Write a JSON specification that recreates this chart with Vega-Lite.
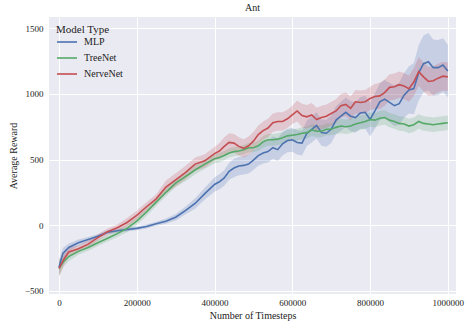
{
  "$schema": "https://vega.github.io/schema/vega-lite/v6.json",
  "width": 407,
  "height": 277,
  "autosize": {"type": "none"},
  "padding": {"left": 49, "top": 17, "right": 10, "bottom": 30},
  "background": "white",
  "title": {"text": "Ant", "font": "Liberation Serif", "fontSize": 10, "fontWeight": "normal", "color": "#222", "offset": 4},
  "config": {
    "view": {"fill": "#EAEAF2", "stroke": null},
    "axis": {
      "domain": false, "ticks": false, "gridColor": "white", "gridWidth": 1, "gridOpacity": 1,
      "labelFont": "Liberation Serif", "labelFontSize": 9, "labelColor": "#222",
      "titleFont": "Liberation Serif", "titleFontSize": 10, "titleFontWeight": "normal", "titleColor": "#222"
    },
    "legend": {
      "labelFont": "Liberation Serif", "labelFontSize": 10, "labelColor": "#222",
      "titleFont": "Liberation Serif", "titleFontSize": 11, "titleFontWeight": "normal", "titleColor": "#222"
    }
  },
  "data": {"values": [
    {"model":"MLP","t":0,"mean":-320,"lo":-380,"hi":-260},
    {"model":"MLP","t":10000,"mean":-215,"lo":-255,"hi":-175},
    {"model":"MLP","t":25000,"mean":-170,"lo":-200,"hi":-140},
    {"model":"MLP","t":50000,"mean":-135,"lo":-160,"hi":-110},
    {"model":"MLP","t":75000,"mean":-110,"lo":-130,"hi":-90},
    {"model":"MLP","t":100000,"mean":-85,"lo":-100,"hi":-70},
    {"model":"MLP","t":125000,"mean":-55,"lo":-70,"hi":-40},
    {"model":"MLP","t":150000,"mean":-43,"lo":-58,"hi":-28},
    {"model":"MLP","t":175000,"mean":-33,"lo":-48,"hi":-18},
    {"model":"MLP","t":200000,"mean":-25,"lo":-40,"hi":-10},
    {"model":"MLP","t":225000,"mean":-10,"lo":-25,"hi":5},
    {"model":"MLP","t":250000,"mean":10,"lo":-5,"hi":25},
    {"model":"MLP","t":275000,"mean":30,"lo":10,"hi":50},
    {"model":"MLP","t":300000,"mean":60,"lo":35,"hi":85},
    {"model":"MLP","t":325000,"mean":110,"lo":80,"hi":140},
    {"model":"MLP","t":350000,"mean":165,"lo":125,"hi":205},
    {"model":"MLP","t":375000,"mean":240,"lo":195,"hi":285},
    {"model":"MLP","t":400000,"mean":310,"lo":255,"hi":365},
    {"model":"MLP","t":425000,"mean":360,"lo":300,"hi":420},
    {"model":"MLP","t":450000,"mean":435,"lo":365,"hi":505},
    {"model":"MLP","t":475000,"mean":455,"lo":385,"hi":525},
    {"model":"MLP","t":500000,"mean":495,"lo":420,"hi":570},
    {"model":"MLP","t":525000,"mean":550,"lo":470,"hi":630},
    {"model":"MLP","t":550000,"mean":590,"lo":505,"hi":675},
    {"model":"MLP","t":575000,"mean":620,"lo":530,"hi":710},
    {"model":"MLP","t":600000,"mean":650,"lo":560,"hi":740},
    {"model":"MLP","t":625000,"mean":625,"lo":530,"hi":720},
    {"model":"MLP","t":650000,"mean":730,"lo":630,"hi":830},
    {"model":"MLP","t":675000,"mean":705,"lo":605,"hi":805},
    {"model":"MLP","t":700000,"mean":730,"lo":625,"hi":835},
    {"model":"MLP","t":725000,"mean":830,"lo":720,"hi":940},
    {"model":"MLP","t":750000,"mean":830,"lo":715,"hi":945},
    {"model":"MLP","t":775000,"mean":855,"lo":735,"hi":975},
    {"model":"MLP","t":800000,"mean":805,"lo":675,"hi":935},
    {"model":"MLP","t":825000,"mean":940,"lo":800,"hi":1080},
    {"model":"MLP","t":850000,"mean":935,"lo":785,"hi":1085},
    {"model":"MLP","t":875000,"mean":925,"lo":765,"hi":1085},
    {"model":"MLP","t":900000,"mean":1030,"lo":850,"hi":1210},
    {"model":"MLP","t":925000,"mean":1160,"lo":950,"hi":1370},
    {"model":"MLP","t":950000,"mean":1245,"lo":1025,"hi":1465},
    {"model":"MLP","t":975000,"mean":1200,"lo":990,"hi":1410},
    {"model":"MLP","t":1000000,"mean":1175,"lo":975,"hi":1375},
    {"model":"MLP","t":412500,"mean":330,"lo":273,"hi":387},
    {"model":"MLP","t":437500,"mean":410,"lo":345,"hi":475},
    {"model":"MLP","t":462500,"mean":450,"lo":380,"hi":520},
    {"model":"MLP","t":487500,"mean":465,"lo":393,"hi":537},
    {"model":"MLP","t":512500,"mean":530,"lo":453,"hi":607},
    {"model":"MLP","t":537500,"mean":560,"lo":478,"hi":642},
    {"model":"MLP","t":562500,"mean":575,"lo":488,"hi":662},
    {"model":"MLP","t":587500,"mean":645,"lo":555,"hi":735},
    {"model":"MLP","t":612500,"mean":630,"lo":538,"hi":722},
    {"model":"MLP","t":637500,"mean":700,"lo":603,"hi":797},
    {"model":"MLP","t":662500,"mean":760,"lo":660,"hi":860},
    {"model":"MLP","t":687500,"mean":700,"lo":598,"hi":802},
    {"model":"MLP","t":712500,"mean":800,"lo":693,"hi":907},
    {"model":"MLP","t":737500,"mean":860,"lo":748,"hi":972},
    {"model":"MLP","t":762500,"mean":820,"lo":703,"hi":937},
    {"model":"MLP","t":787500,"mean":860,"lo":735,"hi":985},
    {"model":"MLP","t":812500,"mean":870,"lo":735,"hi":1005},
    {"model":"MLP","t":837500,"mean":960,"lo":815,"hi":1105},
    {"model":"MLP","t":862500,"mean":910,"lo":755,"hi":1065},
    {"model":"MLP","t":887500,"mean":990,"lo":820,"hi":1160},
    {"model":"MLP","t":912500,"mean":1040,"lo":845,"hi":1235},
    {"model":"MLP","t":937500,"mean":1230,"lo":1015,"hi":1445},
    {"model":"MLP","t":962500,"mean":1200,"lo":985,"hi":1415},
    {"model":"MLP","t":987500,"mean":1220,"lo":1015,"hi":1425},
    {"model":"TreeNet","t":0,"mean":-330,"lo":-390,"hi":-270},
    {"model":"TreeNet","t":12500,"mean":-275,"lo":-315,"hi":-235},
    {"model":"TreeNet","t":25000,"mean":-240,"lo":-275,"hi":-205},
    {"model":"TreeNet","t":50000,"mean":-200,"lo":-225,"hi":-175},
    {"model":"TreeNet","t":75000,"mean":-170,"lo":-195,"hi":-145},
    {"model":"TreeNet","t":100000,"mean":-135,"lo":-160,"hi":-110},
    {"model":"TreeNet","t":125000,"mean":-100,"lo":-125,"hi":-75},
    {"model":"TreeNet","t":150000,"mean":-65,"lo":-90,"hi":-40},
    {"model":"TreeNet","t":175000,"mean":-25,"lo":-55,"hi":5},
    {"model":"TreeNet","t":200000,"mean":30,"lo":0,"hi":60},
    {"model":"TreeNet","t":225000,"mean":100,"lo":70,"hi":130},
    {"model":"TreeNet","t":250000,"mean":175,"lo":145,"hi":205},
    {"model":"TreeNet","t":275000,"mean":250,"lo":220,"hi":280},
    {"model":"TreeNet","t":300000,"mean":320,"lo":290,"hi":350},
    {"model":"TreeNet","t":325000,"mean":370,"lo":335,"hi":405},
    {"model":"TreeNet","t":350000,"mean":420,"lo":385,"hi":455},
    {"model":"TreeNet","t":375000,"mean":465,"lo":430,"hi":500},
    {"model":"TreeNet","t":400000,"mean":505,"lo":470,"hi":540},
    {"model":"TreeNet","t":425000,"mean":530,"lo":495,"hi":565},
    {"model":"TreeNet","t":450000,"mean":560,"lo":525,"hi":595},
    {"model":"TreeNet","t":475000,"mean":575,"lo":540,"hi":610},
    {"model":"TreeNet","t":500000,"mean":590,"lo":555,"hi":625},
    {"model":"TreeNet","t":525000,"mean":635,"lo":590,"hi":680},
    {"model":"TreeNet","t":550000,"mean":650,"lo":605,"hi":695},
    {"model":"TreeNet","t":575000,"mean":665,"lo":620,"hi":710},
    {"model":"TreeNet","t":600000,"mean":685,"lo":640,"hi":730},
    {"model":"TreeNet","t":625000,"mean":700,"lo":655,"hi":745},
    {"model":"TreeNet","t":650000,"mean":725,"lo":680,"hi":770},
    {"model":"TreeNet","t":675000,"mean":715,"lo":670,"hi":760},
    {"model":"TreeNet","t":700000,"mean":730,"lo":685,"hi":775},
    {"model":"TreeNet","t":725000,"mean":755,"lo":700,"hi":810},
    {"model":"TreeNet","t":750000,"mean":755,"lo":700,"hi":810},
    {"model":"TreeNet","t":775000,"mean":780,"lo":725,"hi":835},
    {"model":"TreeNet","t":800000,"mean":805,"lo":750,"hi":860},
    {"model":"TreeNet","t":825000,"mean":815,"lo":760,"hi":870},
    {"model":"TreeNet","t":850000,"mean":800,"lo":745,"hi":855},
    {"model":"TreeNet","t":875000,"mean":775,"lo":720,"hi":830},
    {"model":"TreeNet","t":900000,"mean":755,"lo":700,"hi":810},
    {"model":"TreeNet","t":925000,"mean":790,"lo":735,"hi":845},
    {"model":"TreeNet","t":950000,"mean":770,"lo":715,"hi":825},
    {"model":"TreeNet","t":975000,"mean":770,"lo":715,"hi":825},
    {"model":"TreeNet","t":1000000,"mean":780,"lo":725,"hi":835},
    {"model":"TreeNet","t":412500,"mean":515,"lo":480,"hi":550},
    {"model":"TreeNet","t":437500,"mean":550,"lo":515,"hi":585},
    {"model":"TreeNet","t":462500,"mean":565,"lo":530,"hi":600},
    {"model":"TreeNet","t":487500,"mean":590,"lo":555,"hi":625},
    {"model":"TreeNet","t":512500,"mean":605,"lo":565,"hi":645},
    {"model":"TreeNet","t":537500,"mean":650,"lo":605,"hi":695},
    {"model":"TreeNet","t":562500,"mean":655,"lo":610,"hi":700},
    {"model":"TreeNet","t":587500,"mean":680,"lo":635,"hi":725},
    {"model":"TreeNet","t":612500,"mean":690,"lo":645,"hi":735},
    {"model":"TreeNet","t":637500,"mean":705,"lo":660,"hi":750},
    {"model":"TreeNet","t":662500,"mean":715,"lo":670,"hi":760},
    {"model":"TreeNet","t":687500,"mean":730,"lo":685,"hi":775},
    {"model":"TreeNet","t":712500,"mean":745,"lo":695,"hi":795},
    {"model":"TreeNet","t":737500,"mean":750,"lo":695,"hi":805},
    {"model":"TreeNet","t":762500,"mean":770,"lo":715,"hi":825},
    {"model":"TreeNet","t":787500,"mean":790,"lo":735,"hi":845},
    {"model":"TreeNet","t":812500,"mean":800,"lo":745,"hi":855},
    {"model":"TreeNet","t":837500,"mean":820,"lo":765,"hi":875},
    {"model":"TreeNet","t":862500,"mean":790,"lo":735,"hi":845},
    {"model":"TreeNet","t":887500,"mean":770,"lo":715,"hi":825},
    {"model":"TreeNet","t":912500,"mean":765,"lo":710,"hi":820},
    {"model":"TreeNet","t":937500,"mean":775,"lo":720,"hi":830},
    {"model":"TreeNet","t":962500,"mean":765,"lo":710,"hi":820},
    {"model":"TreeNet","t":987500,"mean":775,"lo":720,"hi":830},
    {"model":"NerveNet","t":0,"mean":-330,"lo":-390,"hi":-270},
    {"model":"NerveNet","t":12500,"mean":-260,"lo":-305,"hi":-215},
    {"model":"NerveNet","t":25000,"mean":-205,"lo":-240,"hi":-170},
    {"model":"NerveNet","t":50000,"mean":-180,"lo":-205,"hi":-155},
    {"model":"NerveNet","t":75000,"mean":-145,"lo":-170,"hi":-120},
    {"model":"NerveNet","t":100000,"mean":-95,"lo":-120,"hi":-70},
    {"model":"NerveNet","t":125000,"mean":-50,"lo":-75,"hi":-25},
    {"model":"NerveNet","t":150000,"mean":-20,"lo":-45,"hi":5},
    {"model":"NerveNet","t":175000,"mean":20,"lo":-15,"hi":55},
    {"model":"NerveNet","t":200000,"mean":75,"lo":40,"hi":110},
    {"model":"NerveNet","t":225000,"mean":140,"lo":105,"hi":175},
    {"model":"NerveNet","t":250000,"mean":200,"lo":165,"hi":235},
    {"model":"NerveNet","t":275000,"mean":290,"lo":240,"hi":340},
    {"model":"NerveNet","t":300000,"mean":345,"lo":295,"hi":395},
    {"model":"NerveNet","t":325000,"mean":400,"lo":350,"hi":450},
    {"model":"NerveNet","t":350000,"mean":465,"lo":415,"hi":515},
    {"model":"NerveNet","t":375000,"mean":490,"lo":440,"hi":540},
    {"model":"NerveNet","t":400000,"mean":545,"lo":495,"hi":595},
    {"model":"NerveNet","t":425000,"mean":600,"lo":530,"hi":670},
    {"model":"NerveNet","t":450000,"mean":625,"lo":555,"hi":695},
    {"model":"NerveNet","t":475000,"mean":585,"lo":515,"hi":655},
    {"model":"NerveNet","t":500000,"mean":640,"lo":570,"hi":710},
    {"model":"NerveNet","t":525000,"mean":720,"lo":650,"hi":790},
    {"model":"NerveNet","t":550000,"mean":780,"lo":710,"hi":850},
    {"model":"NerveNet","t":575000,"mean":790,"lo":720,"hi":860},
    {"model":"NerveNet","t":600000,"mean":840,"lo":770,"hi":910},
    {"model":"NerveNet","t":625000,"mean":835,"lo":745,"hi":925},
    {"model":"NerveNet","t":650000,"mean":840,"lo":750,"hi":930},
    {"model":"NerveNet","t":675000,"mean":820,"lo":730,"hi":910},
    {"model":"NerveNet","t":700000,"mean":850,"lo":760,"hi":940},
    {"model":"NerveNet","t":725000,"mean":910,"lo":820,"hi":1000},
    {"model":"NerveNet","t":750000,"mean":890,"lo":800,"hi":980},
    {"model":"NerveNet","t":775000,"mean":935,"lo":845,"hi":1025},
    {"model":"NerveNet","t":800000,"mean":965,"lo":875,"hi":1055},
    {"model":"NerveNet","t":825000,"mean":985,"lo":885,"hi":1085},
    {"model":"NerveNet","t":850000,"mean":1050,"lo":950,"hi":1150},
    {"model":"NerveNet","t":875000,"mean":1070,"lo":970,"hi":1170},
    {"model":"NerveNet","t":900000,"mean":1040,"lo":940,"hi":1140},
    {"model":"NerveNet","t":925000,"mean":1170,"lo":1060,"hi":1280},
    {"model":"NerveNet","t":950000,"mean":1095,"lo":985,"hi":1205},
    {"model":"NerveNet","t":975000,"mean":1120,"lo":1010,"hi":1230},
    {"model":"NerveNet","t":1000000,"mean":1130,"lo":1020,"hi":1240},
    {"model":"NerveNet","t":412500,"mean":565,"lo":505,"hi":625},
    {"model":"NerveNet","t":437500,"mean":630,"lo":560,"hi":700},
    {"model":"NerveNet","t":462500,"mean":600,"lo":530,"hi":670},
    {"model":"NerveNet","t":487500,"mean":605,"lo":535,"hi":675},
    {"model":"NerveNet","t":512500,"mean":690,"lo":620,"hi":760},
    {"model":"NerveNet","t":537500,"mean":740,"lo":670,"hi":810},
    {"model":"NerveNet","t":562500,"mean":790,"lo":720,"hi":860},
    {"model":"NerveNet","t":587500,"mean":810,"lo":740,"hi":880},
    {"model":"NerveNet","t":612500,"mean":870,"lo":790,"hi":950},
    {"model":"NerveNet","t":637500,"mean":825,"lo":735,"hi":915},
    {"model":"NerveNet","t":662500,"mean":805,"lo":715,"hi":895},
    {"model":"NerveNet","t":687500,"mean":830,"lo":740,"hi":920},
    {"model":"NerveNet","t":712500,"mean":870,"lo":780,"hi":960},
    {"model":"NerveNet","t":737500,"mean":920,"lo":830,"hi":1010},
    {"model":"NerveNet","t":762500,"mean":940,"lo":850,"hi":1030},
    {"model":"NerveNet","t":787500,"mean":940,"lo":850,"hi":1030},
    {"model":"NerveNet","t":812500,"mean":980,"lo":885,"hi":1075},
    {"model":"NerveNet","t":837500,"mean":1010,"lo":910,"hi":1110},
    {"model":"NerveNet","t":862500,"mean":1055,"lo":955,"hi":1155},
    {"model":"NerveNet","t":887500,"mean":1060,"lo":960,"hi":1160},
    {"model":"NerveNet","t":912500,"mean":1090,"lo":985,"hi":1195},
    {"model":"NerveNet","t":937500,"mean":1130,"lo":1020,"hi":1240},
    {"model":"NerveNet","t":962500,"mean":1100,"lo":990,"hi":1210},
    {"model":"NerveNet","t":987500,"mean":1135,"lo":1025,"hi":1245}
  ]},
  "encoding": {
    "x": {
      "field": "t", "type": "quantitative",
      "scale": {"domain": [-25700, 1021000], "nice": false, "zero": false},
      "axis": {"title": "Number of Timesteps", "values": [0, 200000, 400000, 600000, 800000, 1000000], "format": "d", "labelPadding": 4, "titlePadding": 3}
    }
  },
  "layer": [
    {
      "mark": {"type": "area", "opacity": 0.22},
      "encoding": {
        "y": {"field": "lo", "type": "quantitative"},
        "y2": {"field": "hi"},
        "color": {"field": "model", "type": "nominal",
          "scale": {"domain": ["MLP", "TreeNet", "NerveNet"], "range": ["#4C72B0", "#55A868", "#C44E52"]}}
      }
    },
    {
      "mark": {"type": "line", "strokeWidth": 1.6},
      "encoding": {
        "y": {
          "field": "mean", "type": "quantitative",
          "scale": {"domain": [-525, 1586], "nice": false, "zero": false},
          "axis": {"title": "Average Reward", "values": [-500, -250, 0, 250, 500, 750, 1000, 1250, 1500], "format": "d", "labelPadding": 6, "titlePadding": 6}
        },
        "color": {"field": "model", "type": "nominal",
          "scale": {"domain": ["MLP", "TreeNet", "NerveNet"], "range": ["#4C72B0", "#55A868", "#C44E52"]},
          "legend": {
            "title": "Model Type", "orient": "top-left", "offset": 7,
            "symbolType": "stroke", "symbolSize": 400, "symbolStrokeWidth": 1.6, "symbolOpacity": 1,
            "rowPadding": -7, "titlePadding": -4, "labelOffset": 6, "padding": 0,
            "encode": {"symbols": {"update": {"opacity": {"value": 1}, "strokeOpacity": {"value": 1}, "fillOpacity": {"value": 0}}}}
          }
        }
      }
    }
  ]
}
